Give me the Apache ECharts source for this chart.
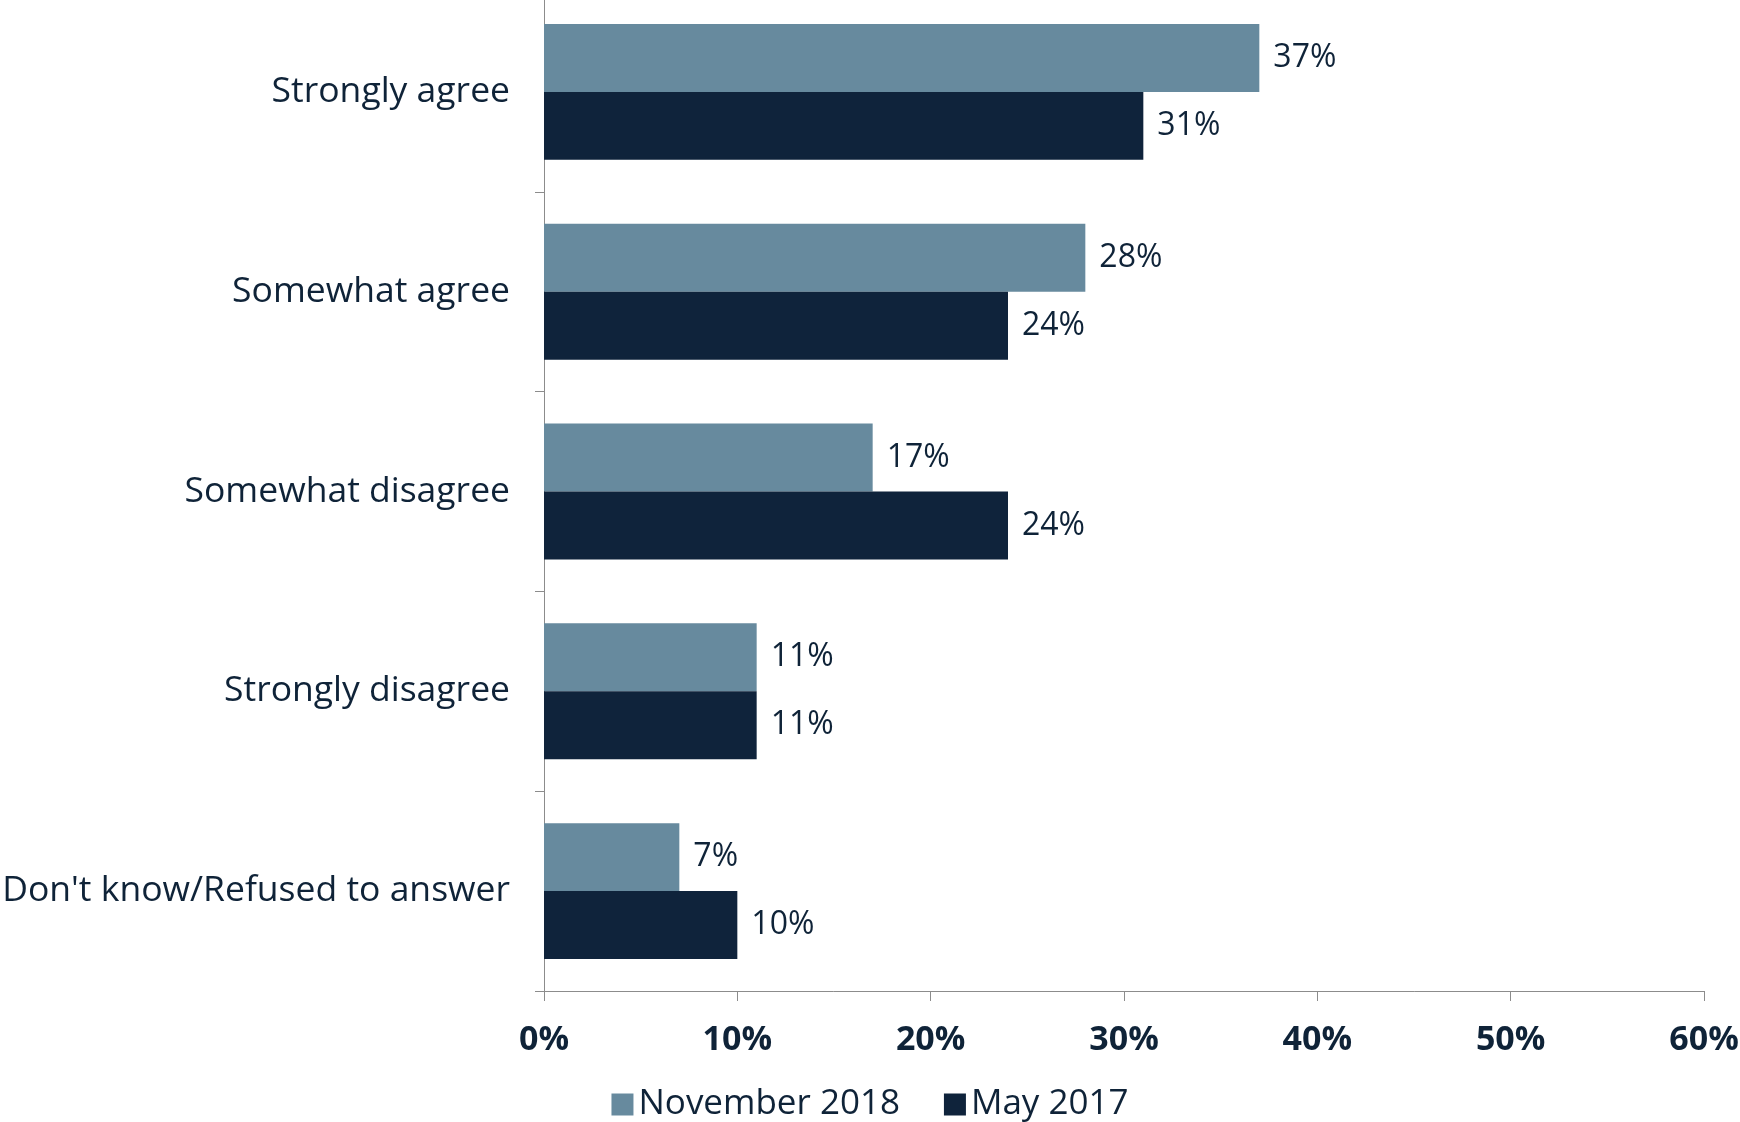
<!DOCTYPE html>
<html>
<head>
<meta charset="utf-8">
<script src="https://cdn.jsdelivr.net/npm/echarts@6/dist/echarts.min.js"></script>
<style>html,body{margin:0;padding:0;background:#fff}#c{width:1740px;height:1122px}</style>
</head>
<body>
<div id="c"></div>
<script>
var categories = ["Strongly agree", "Somewhat agree", "Somewhat disagree", "Strongly disagree", "Don't know/Refused to answer"];
var seriesNames = ["November 2018", "May 2017"];
var nov2018 = [37, 28, 17, 11, 7];
var may2017 = [31, 24, 24, 11, 10];
var xTicks = [0, 10, 20, 30, 40, 50, 60];

var FONT = "'Open Sans', 'Noto Sans', sans-serif";
var TXT = "#0f2338";
var chart = echarts.init(document.getElementById('c'));
chart.setOption({
  animation: false,
  textStyle: {fontFamily: FONT, color: TXT},
  grid: {left: 544, width: 1160, top: -8, height: 999, containLabel: false, outerBoundsMode: 'none'},
  legend: {
    data: seriesNames,
    left: 'center',
    top: 1082,
    itemWidth: 22, itemHeight: 22,
    itemGap: 44,
    icon: 'rect',
    textStyle: {fontSize: 35, color: TXT, fontFamily: FONT, padding: [0, 0, 0, 0]}
  },
  xAxis: {
    type: 'value', min: xTicks[0], max: xTicks[xTicks.length - 1], interval: 10,
    axisLine: {show: true, lineStyle: {color: '#8c8c8c', width: 1}},
    axisTick: {show: true, length: 10, lineStyle: {color: '#8c8c8c'}},
    splitLine: {show: false},
    axisLabel: {formatter: '{value}%', fontSize: 34, fontWeight: 'bold', color: TXT, margin: 32, fontFamily: FONT}
  },
  yAxis: {
    type: 'category', data: categories, inverse: true,
    axisLine: {show: true, lineStyle: {color: '#8c8c8c', width: 1}},
    axisTick: {show: true, length: 9, lineStyle: {color: '#8c8c8c'}},
    axisLabel: {fontSize: 35.5, color: TXT, margin: 34, fontFamily: FONT}
  },
  series: [
    {name: seriesNames[0], type: 'bar', data: nov2018, barGap: '0%', barCategoryGap: '32%',
     itemStyle: {color: '#678a9e'},
     label: {show: true, position: 'right', distance: 14, formatter: '{c}%', fontSize: 32, color: TXT, fontFamily: FONT}},
    {name: seriesNames[1], type: 'bar', data: may2017, barGap: '0%', barCategoryGap: '32%',
     itemStyle: {color: '#0f233b'},
     label: {show: true, position: 'right', distance: 14, formatter: '{c}%', fontSize: 32, color: TXT, fontFamily: FONT}}
  ]
});
</script>
</body>
</html>
